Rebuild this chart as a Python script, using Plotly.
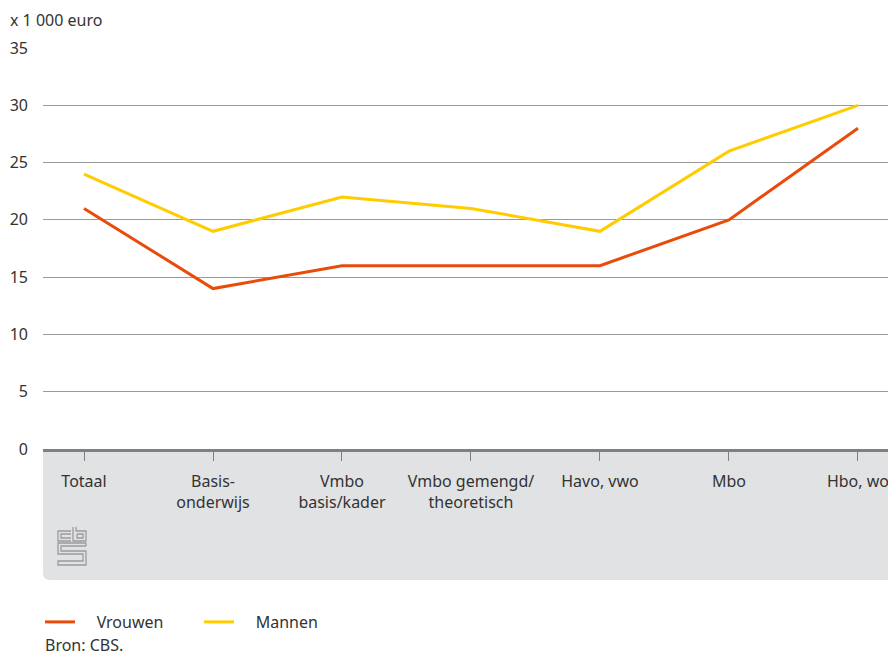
import plotly.graph_objects as go

categories = ["Totaal", "Basis-<br>onderwijs", "Vmbo<br>basis/kader", "Vmbo gemengd/<br>theoretisch",
              "Havo, vwo", "Mbo", "Hbo, wo"]
vrouwen = [21, 14, 16, 16, 16, 20, 28]
mannen = [24, 19, 22, 21, 19, 26, 30]
y_ticks = [0, 5, 10, 15, 20, 25, 30, 35]

W, H = 888, 655
L, R, T, B = 43, 0, 48, 206
PW, PH = W - L - R, H - T - B

def px(x):
    return (x - L) / PW

def py(y):
    return (H - B - y) / PH

FONT = "Noto Sans"
FS = 16
TXT = "#333333"
NB = "\u00a0" * 4

fig = go.Figure()
fig.add_trace(go.Scatter(x=list(range(len(categories))), y=vrouwen, mode="lines", name=NB + "Vrouwen",
                         line=dict(color="#e94c0a", width=3)))
fig.add_trace(go.Scatter(x=list(range(len(categories))), y=mannen, mode="lines", name=NB + "Mannen",
                         line=dict(color="#ffcc00", width=3)))

shapes = []
# grey panel under the axis with rounded bottom-left corner
r = 7
x0, x1 = px(43), px(905)
ytop, ybot = py(449), py(580)
shapes.append(dict(type="path", xref="paper", yref="paper", layer="below",
                   path=f"M {x0},{ytop} L {x1},{ytop} L {x1},{ybot} L {px(43+r)},{ybot} "
                        f"Q {x0},{ybot} {x0},{py(580-r)} Z",
                   fillcolor="#e1e2e4", line=dict(width=0)))

# CBS logo (approximate)
def pth(points, closed=False):
    s = "M " + " L ".join(f"{px(a)},{py(b)}" for a, b in points)
    return s + (" Z" if closed else "")

logo = [
    [(71, 531), (58, 531), (58, 541), (71, 541)],
    [(71, 534), (61, 534), (61, 538), (71, 538)],
    [(73, 527), (73, 541), (86, 541), (86, 531), (76, 531), (76, 527)],
    [(77, 534), (83, 534), (83, 538), (77, 538), (77, 534)],
    [(86, 543), (58, 543), (58, 554), (83, 554), (83, 561), (58, 561), (58, 565), (86, 565), (86, 551), (61, 551), (61, 546), (86, 546)],
    [(86, 543), (86, 546)],
]
for pts in logo:
    shapes.append(dict(type="path", xref="paper", yref="paper", path=pth(pts),
                       line=dict(color="#9a9b9d", width=1.3)))

fig.update_layout(
    width=W, height=H,
    margin=dict(l=L, r=R, t=T, b=B, pad=0),
    paper_bgcolor="white", plot_bgcolor="rgba(0,0,0,0)",
    font=dict(family=FONT, size=FS, color=TXT),
    showlegend=True,
    legend=dict(orientation="h", x=px(40), y=py(622), xanchor="left", yanchor="middle",
                font=dict(family=FONT, size=FS, color=TXT),
                entrywidth=114, entrywidthmode="pixels", bgcolor="rgba(0,0,0,0)"),
    xaxis=dict(range=[-0.318, 6.233], tickmode="array", tickvals=list(range(len(categories))),
               ticktext=categories, showgrid=False, zeroline=False,
               showline=True, linecolor="#808080", linewidth=3,
               ticks="outside", ticklen=9, tickwidth=1, tickcolor="#808080",
               ticklabelstandoff=7, ticklabeloverflow="allow",
               tickfont=dict(family=FONT, size=FS, color=TXT), fixedrange=True),
    yaxis=dict(range=[0, 35], tickmode="array", tickvals=y_ticks, showgrid=True,
               gridcolor="#9a9a9a", gridwidth=1, zeroline=False, showline=False,
               ticks="", ticklabelstandoff=14,
               tickfont=dict(family=FONT, size=FS, color=TXT), fixedrange=True),
    shapes=shapes,
    annotations=[
        dict(text="x 1 000 euro", xref="paper", yref="paper", x=px(8), y=py(20),
             xanchor="left", yanchor="middle", showarrow=False,
             font=dict(family=FONT, size=FS, color=TXT)),
        dict(text="Bron: CBS.", xref="paper", yref="paper", x=px(43), y=py(645),
             xanchor="left", yanchor="middle", showarrow=False,
             font=dict(family=FONT, size=FS, color=TXT)),
    ],
)

fig.write_html("out.html", config={"displayModeBar": False},
               post_script="document.body.style.margin='0';document.body.style.overflow='hidden';")
